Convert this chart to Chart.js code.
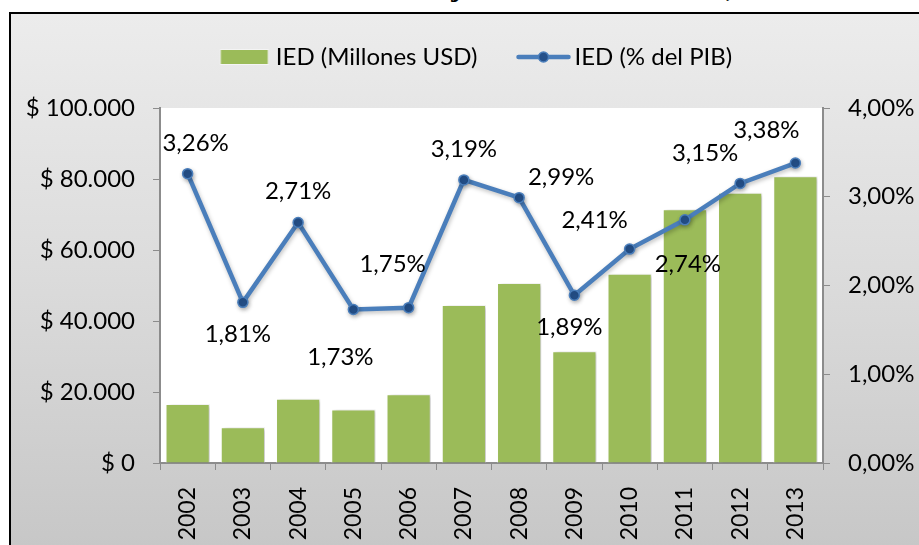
<!DOCTYPE html>
<html>
<head>
<meta charset="utf-8">
<script src="https://cdn.jsdelivr.net/npm/chart.js@4.4.1/dist/chart.umd.min.js"></script>
<style>
    html, body { margin: 0; padding: 0; background: #fff; }
    body { width: 919px; height: 545px; position: relative; overflow: hidden; }
    #frame {
        position: absolute; left: 9px; top: 12px; width: 930px; height: 560px;
        border: 2px solid #000;
        background: linear-gradient(#ececec, #dcdcdc 45%, #c5c5c5);
    }
    #title {
        position: absolute; left: 232px; top: -29px; white-space: nowrap;
        font: bold 30px/30px "Liberation Serif", serif; color: #000;
    }
    #wrap { position: absolute; left: 0; top: 0; width: 919px; height: 545px; }
</style>
</head>
<body>
<div id="title">Inversión Extranjera Directa en Brasil, 2002-2013</div>
<div id="frame"></div>
<div id="wrap"><canvas id="iedChart" width="919" height="545"></canvas></div>

<script>
// Data
const years = ['2002', '2003', '2004', '2005', '2006', '2007', '2008', '2009', '2010', '2011', '2012', '2013'];
const iedMillones = [16600, 10100, 18100, 15100, 19400, 44500, 50700, 31500, 53300, 71500, 76100, 80800];
const iedPctPib = [3.26, 1.81, 2.71, 1.73, 1.75, 3.19, 2.99, 1.89, 2.41, 2.74, 3.15, 3.38];
const leftTicks = [0, 20000, 40000, 60000, 80000, 100000];
const rightTicks = [0, 1, 2, 3, 4];

// Where each % label sits relative to its point (dx, dy)
const labelOffsets = [
    [8, -30], [-5, 32], [0, -31], [-13, 48], [-16, -43], [0, -31],
    [42, -20], [-5, 32], [-35, -29], [3, 44], [-35, -30], [-29, -33]
];

const FONT = 'Lato, "Open Sans", sans-serif';
const GREEN = '#9bbb59';
const BLUE = '#4a7ebb';
const MARKER = '#24508a';
const AXIS = '#8c8c8c';

function fmtMoney(v) {
    return '$ ' + v.toLocaleString('de-DE');
}
function fmtPct(v, d) {
    return v.toFixed(d).replace('.', ',') + '%';
}

// Legend symbols (drawn into small canvases used as point styles)
function legendBox() {
    const c = document.createElement('canvas');
    c.width = 60; c.height = 18;
    const g = c.getContext('2d');
    g.fillStyle = '#f4f4f4';
    g.fillRect(7.5, 1, 49, 16);
    g.fillStyle = GREEN;
    g.fillRect(8.5, 2, 47, 14);
    return c;
}
function legendLine() {
    const c = document.createElement('canvas');
    c.width = 60; c.height = 14;
    const g = c.getContext('2d');
    g.strokeStyle = BLUE;
    g.lineWidth = 4.5;
    g.lineCap = 'round';
    g.beginPath(); g.moveTo(7.5, 7); g.lineTo(57.5, 7); g.stroke();
    g.fillStyle = MARKER;
    g.strokeStyle = BLUE;
    g.lineWidth = 1.5;
    g.beginPath(); g.arc(32.5, 7, 5, 0, Math.PI * 2); g.fill(); g.stroke();
    return c;
}

// White plot area
const plotBackground = {
    id: 'plotBackground',
    beforeDraw(chart) {
        const a = chart.chartArea;
        const ctx = chart.ctx;
        ctx.save();
        ctx.fillStyle = '#ffffff';
        ctx.fillRect(a.left, a.top, a.right - a.left, a.bottom - a.top);
        ctx.restore();
    }
};

// Soft shadows like the original
const softShadow = {
    id: 'softShadow',
    beforeDatasetDraw(chart, args) {
        const ctx = chart.ctx;
        ctx.save();
        if (args.index === 0) {
            ctx.shadowColor = 'rgba(0,0,0,0.22)';
            ctx.shadowBlur = 4;
            ctx.shadowOffsetX = 3;
            ctx.shadowOffsetY = 1;
        } else {
            ctx.shadowColor = 'rgba(0,0,0,0.25)';
            ctx.shadowBlur = 4;
            ctx.shadowOffsetX = 1;
            ctx.shadowOffsetY = 2;
        }
    },
    afterDatasetDraw(chart) {
        chart.ctx.restore();
    }
};

// % value labels for the line
const pctLabels = {
    id: 'pctLabels',
    afterDatasetsDraw(chart) {
        const meta = chart.getDatasetMeta(1);
        const ctx = chart.ctx;
        ctx.save();
        ctx.font = '24px ' + FONT;
        ctx.fillStyle = '#000';
        ctx.textAlign = 'center';
        ctx.textBaseline = 'middle';
        meta.data.forEach((pt, i) => {
            const off = labelOffsets[i];
            ctx.fillText(fmtPct(iedPctPib[i], 2), pt.x + off[0], pt.y + off[1]);
        });
        ctx.restore();
    }
};

const ctx = document.getElementById('iedChart').getContext('2d');
const chart = new Chart(ctx, {
    type: 'bar',
    data: {
        labels: years,
        datasets: [
            {
                label: 'IED (Millones USD)',
                data: iedMillones,
                backgroundColor: GREEN,
                borderColor: '#ffffff',
                borderWidth: 1,
                barPercentage: 0.8,
                categoryPercentage: 1.0,
                yAxisID: 'y',
                order: 2
            },
            {
                label: 'IED (% del PIB)',
                data: iedPctPib,
                type: 'line',
                borderColor: BLUE,
                borderWidth: 4.5,
                pointRadius: 5,
                pointBorderWidth: 1.5,
                pointBackgroundColor: MARKER,
                pointBorderColor: BLUE,
                tension: 0,
                yAxisID: 'y1',
                order: 1
            }
        ]
    },
    options: {
        responsive: false,
        animation: false,
        layout: {
            // uneven side padding keeps the legend centred like the original
            padding: { top: 3, left: 24, right: -10, bottom: 0 }
        },
        scales: {
            x: {
                offset: true,
                grid: {
                    display: true,
                    offset: true,
                    drawOnChartArea: false,
                    drawTicks: true,
                    tickLength: 7,
                    color: AXIS
                },
                border: { display: true, color: AXIS, width: 2 },
                ticks: {
                    minRotation: 90,
                    maxRotation: 90,
                    padding: 17,
                    color: '#000',
                    font: { family: FONT, size: 23 }
                },
                afterFit(scale) { scale.height = 82; }
            },
            y: {
                position: 'left',
                min: 0,
                max: 100000,
                afterBuildTicks(scale) { scale.ticks = leftTicks.map(v => ({ value: v })); },
                grid: {
                    drawOnChartArea: false,
                    drawTicks: true,
                    tickLength: 7,
                    color: AXIS
                },
                border: { display: true, color: AXIS, width: 2 },
                ticks: {
                    padding: 18,
                    color: '#000',
                    font: { family: FONT, size: 24 },
                    callback: v => fmtMoney(v)
                },
                afterFit(scale) { scale.width = 136; }
            },
            y1: {
                position: 'right',
                min: 0,
                max: 4,
                afterBuildTicks(scale) { scale.ticks = rightTicks.map(v => ({ value: v })); },
                grid: {
                    drawOnChartArea: false,
                    drawTicks: true,
                    tickLength: 7,
                    color: AXIS
                },
                border: { display: true, color: AXIS, width: 2 },
                ticks: {
                    padding: 18,
                    color: '#000',
                    font: { family: FONT, size: 24 },
                    callback: v => fmtPct(v, 2)
                },
                afterFit(scale) { scale.width = 106; }
            }
        },
        plugins: {
            legend: {
                position: 'top',
                labels: {
                    usePointStyle: true,
                    pointStyleWidth: 43,
                    padding: 42,
                    color: '#000',
                    font: { family: FONT, size: 24 },
                    generateLabels(chart) {
                        return chart.data.datasets.map((ds, i) => ({
                            text: ds.label,
                            pointStyle: i === 0 ? legendBox() : legendLine(),
                            fillStyle: 'transparent',
                            strokeStyle: 'transparent',
                            lineWidth: 0,
                            hidden: false,
                            datasetIndex: i
                        }));
                    }
                }
            },
            // empty title used as a spacer between legend and plot
            title: {
                display: true,
                text: ' ',
                weight: 500,
                font: { size: 1, lineHeight: 1 },
                padding: { top: 28, bottom: 0 }
            },
            tooltip: { enabled: false }
        }
    },
    plugins: [plotBackground, softShadow, pctLabels]
});
</script>
</body>
</html>
